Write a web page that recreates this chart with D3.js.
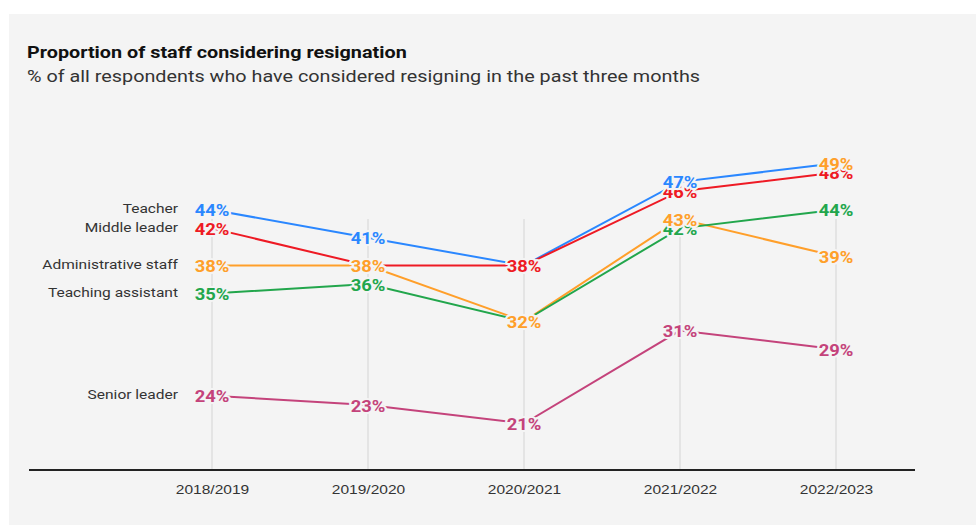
<!DOCTYPE html>
<html lang="en">
<head>
    <meta charset="UTF-8">
    <title>Proportion of staff considering resignation</title>
    <script src="https://d3js.org/d3.v7.min.js"></script>
    <style>
        body {
            margin: 0;
            background: #fff;
            font-family: Roboto, "Noto Sans", Arial, sans-serif;
        }
        .title { font-size: 16.5px; font-weight: 700; fill: #111; }
        .subtitle { font-size: 16.5px; fill: #333; }
        .series-name { font-size: 13.5px; fill: #333; }
        .year { font-size: 13.5px; fill: #333; font-weight: 500; }
        .value {
            font-size: 16px;
            font-weight: 700;
            paint-order: stroke;
            stroke: #f4f4f4;
            stroke-width: 4px;
            stroke-linejoin: round;
        }
    </style>
</head>
<body>
    <svg width="976" height="525"></svg>
    <script>
        var years = ["2018/2019", "2019/2020", "2020/2021", "2021/2022", "2022/2023"];
        var seriesNames = ["Teacher", "Middle leader", "Administrative staff", "Teaching assistant", "Senior leader"];
        var teacher = [44, 41, 38, 47, 49];
        var middleLeader = [42, 38, 38, 46, 48];
        var adminStaff = [38, 38, 32, 43, 39];
        var teachingAssistant = [35, 36, 32, 42, 44];
        var seniorLeader = [24, 23, 21, 31, 29];
        var colors = ["#2a87ff", "#ee1a24", "#ff9f2a", "#22a64c", "#c4437b"];
        // which label wins when two labels sit on top of each other at the same value
        var stackOrder = [0, 1, 3, 2, 4];

        var allValues = [teacher, middleLeader, adminStaff, teachingAssistant, seniorLeader];
        var series = seriesNames.map(function(name, i) {
            return {name: name, color: colors[i], z: stackOrder[i],
                values: allValues[i].map(function(v, j) { return {year: years[j], value: v}; })};
        });

        var svg = d3.select("svg");
        var sx = 1.15; // the source text is drawn a little wide
        var sxHead = 1.2;

        svg.append("rect")
            .attr("x", 9).attr("y", 14)
            .attr("width", 967).attr("height", 511)
            .attr("fill", "#f4f4f4");

        svg.append("text").attr("class", "title")
            .attr("transform", "translate(27,58) scale(" + sxHead + ",1)")
            .text("Proportion of staff considering resignation");
        svg.append("text").attr("class", "subtitle")
            .attr("transform", "translate(27,82) scale(" + sxHead + ",1)")
            .text("% of all respondents who have considered resigning in the past three months");

        var x = d3.scalePoint().domain(years).range([212, 836]);
        var y = d3.scaleLinear().domain([16, 50]).range([470, 154]);

        // vertical grid lines
        svg.append("g").selectAll("line")
            .data(years)
          .enter().append("line")
            .attr("x1", function(d) { return x(d); })
            .attr("x2", function(d) { return x(d); })
            .attr("y1", y(43))
            .attr("y2", y(16))
            .attr("stroke", "#d4d4d4")
            .attr("stroke-width", 1);

        // x axis
        var xAxis = svg.append("g")
            .attr("transform", "translate(0," + y(16) + ")")
            .call(d3.axisBottom(x).tickSize(0).tickPadding(14));
        xAxis.select(".domain").remove();
        xAxis.append("line")
            .attr("x1", 29).attr("x2", 915)
            .attr("stroke", "#222").attr("stroke-width", 2);
        xAxis.selectAll(".tick text")
            .attr("class", "year")
            .attr("font-family", null).attr("font-size", null).attr("fill", null)
            .attr("transform", "scale(" + sx + ",1)");

        var line = d3.line()
            .x(function(d) { return x(d.year); })
            .y(function(d) { return y(d.value); });

        svg.append("g").selectAll("path")
            .data(series)
          .enter().append("path")
            .attr("d", function(d) { return line(d.values); })
            .attr("fill", "none")
            .attr("stroke", function(d) { return d.color; })
            .attr("stroke-width", 2);

        // series names on the left
        svg.append("g").selectAll("text")
            .data(series)
          .enter().append("text")
            .attr("class", "series-name")
            .attr("text-anchor", "end")
            .attr("dominant-baseline", "central")
            .attr("transform", function(d) {
                return "translate(178," + (y(d.values[0].value) - 1) + ") scale(" + sx + ",1)";
            })
            .text(function(d) { return d.name; });

        // value labels, lower values first so the higher ones sit on top
        var labels = [];
        series.forEach(function(s) {
            s.values.forEach(function(v) {
                labels.push({year: v.year, value: v.value, color: s.color, z: s.z, name: s.name});
            });
        });
        // in the source the Teacher 2022/2023 label is printed in the orange of Administrative staff
        labels.forEach(function(l) {
            if (l.name === "Teacher" && l.year === "2022/2023") l.color = colors[2];
        });
        labels.sort(function(a, b) { return a.value - b.value || a.z - b.z; });

        svg.append("g").selectAll("text")
            .data(labels)
          .enter().append("text")
            .attr("class", "value")
            .attr("text-anchor", "middle")
            .attr("dominant-baseline", "central")
            .attr("fill", function(d) { return d.color; })
            .attr("transform", function(d) {
                return "translate(" + x(d.year) + "," + (y(d.value) + 1) + ") scale(" + sx + ",1)";
            })
            .text(function(d) { return d.value + "%"; });
    </script>
</body>
</html>
